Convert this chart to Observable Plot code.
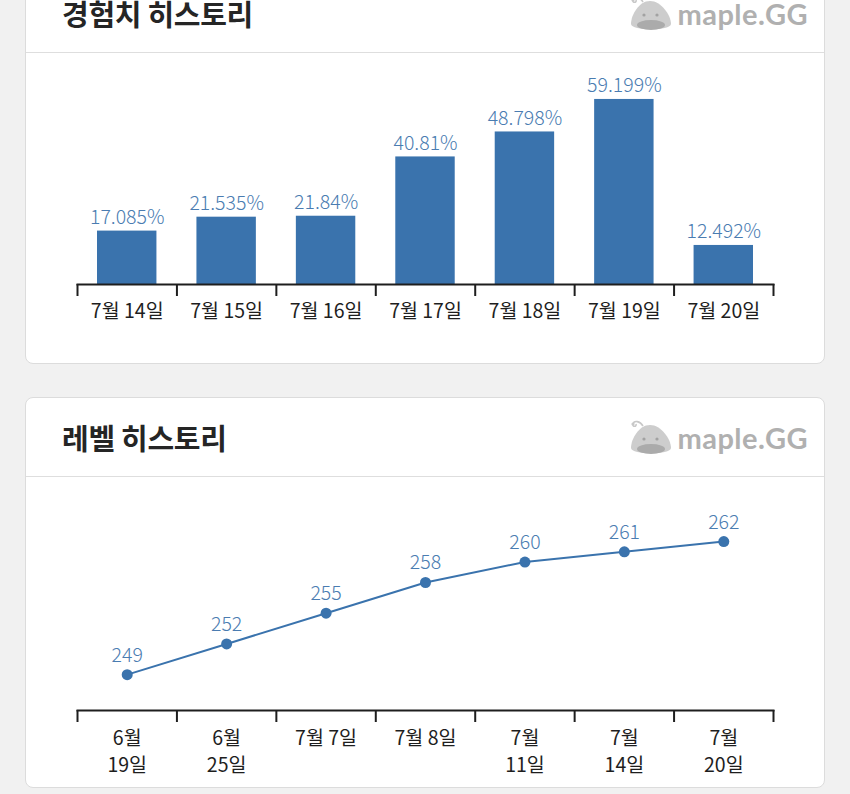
<!DOCTYPE html>
<html>
<head>
<meta charset="utf-8">
<script src="https://cdn.jsdelivr.net/npm/d3@7"></script>
<script src="https://cdn.jsdelivr.net/npm/@observablehq/plot@0.6"></script>
<style>
  html, body { margin: 0; padding: 0; }
  body { width: 850px; height: 794px; overflow: hidden; background: #f1f1f1; position: relative;
         font-family: "Noto Sans CJK KR", "Noto Sans", sans-serif; }
  .card { position: absolute; left: 25px; width: 798px; background: #fff; border: 1px solid #dcdcdc; border-radius: 8px; }
  .head { height: 78px; border-bottom: 1px solid #dedede; display: flex; align-items: center; justify-content: space-between; padding: 0 16px 0 36px; }
  .title { font-size: 29px; font-weight: 700; color: #252525; letter-spacing: -0.3px; }
  .logo { display: flex; align-items: center; gap: 3px; color: #b0b0b0; font-family: "Lato", sans-serif; font-weight: 700; font-size: 29px; letter-spacing: 0.5px; }
  .body { height: 310px; }
  svg { overflow: visible; }
</style>
</head>
<body>
<div class="card" id="card1" style="top:-27px;">
  <div class="head"><div class="title">경험치 히스토리</div><div class="logo" id="logo1"></div></div>
  <div class="body" id="chart1"></div>
</div>
<div class="card" id="card2" style="top:397px;">
  <div class="head"><div class="title">레벨 히스토리</div><div class="logo" id="logo2"></div></div>
  <div class="body" id="chart2"></div>
</div>
<script>
// ---- data ----
const expDates = ["7월 14일", "7월 15일", "7월 16일", "7월 17일", "7월 18일", "7월 19일", "7월 20일"];
const expValues = [17.085, 21.535, 21.84, 40.81, 48.798, 59.199, 12.492];

const levelDates = ["6월\n19일", "6월\n25일", "7월 7일", "7월 8일", "7월\n11일", "7월\n14일", "7월\n20일"];
const levelValues = [249, 252, 255, 258, 260, 261, 262];

const barColor = "#3a73ad";
const labelColor = "#4a7cb1";
const inkColor = "#1e1e1e";
const font = "'Noto Sans CJK KR', 'Noto Sans', sans-serif";

// ---- logo ----
const logoHTML = `<svg width="46" height="40" viewBox="0 0 46 40">
  <path d="M15 9 C 12 4, 6 3, 5 7 C 4 10, 9 10, 8 7" fill="none" stroke="#c8c8c8" stroke-width="1.6"/>
  <circle cx="5" cy="7" r="1.6" fill="#c8c8c8"/>
  <path d="M22 8 C 11 8, 3 22, 3 31 C 3 38, 43 38, 43 31 C 43 22, 33 8, 22 8 Z" fill="#cdcdcd"/>
  <ellipse cx="23" cy="32" rx="14" ry="5" fill="#ababab"/>
  <circle cx="16" cy="22" r="1.6" fill="#a2a2a2"/><circle cx="29" cy="22" r="1.6" fill="#a2a2a2"/>
</svg><span>maple.GG</span>`;
document.getElementById("logo1").innerHTML = logoHTML;
document.getElementById("logo2").innerHTML = logoHTML;

// ---- chart 1: experience bars ----
const expData = expDates.map((d, i) => ({i, date: d, value: expValues[i]}));
const chart1 = Plot.plot({
  width: 798, height: 310,
  marginLeft: 51, marginRight: 51, marginTop: 20, marginBottom: 79,
  x: {domain: [0, expDates.length], axis: null},
  y: {domain: [0, 67.5], axis: null},
  style: {fontFamily: font, fontSize: "19.5px", background: "transparent", overflow: "visible"},
  marks: [
    Plot.rectY(expData, {x1: d => d.i, x2: d => d.i + 1, y: "value", insetLeft: 20, insetRight: 20, fill: barColor}),
    Plot.text(expData, {x: d => d.i + 0.5, y: "value", text: d => d.value + "%", lineAnchor: "bottom", dy: -7, fill: labelColor, fontSize: 19.5, fontWeight: 300}),
    Plot.frame({anchor: "bottom", stroke: inkColor, strokeWidth: 2}),
    Plot.axisX({ticks: d3.range(expDates.length + 1), tickSize: 12, tickFormat: () => "", stroke: inkColor, strokeWidth: 2}),
    Plot.axisX({ticks: expData.map(d => d.i + 0.5), tickSize: 0, tickPadding: 20, tickFormat: v => expDates[Math.round(v - 0.5)], fill: inkColor, fontSize: 19.5})
  ]
});
document.getElementById("chart1").append(chart1);

// ---- chart 2: level line ----
const levelData = levelDates.map((d, i) => ({i, date: d, value: levelValues[i]}));
const chart2 = Plot.plot({
  width: 798, height: 310,
  marginLeft: 51, marginRight: 51, marginTop: 20, marginBottom: 77,
  x: {domain: [0, levelDates.length], axis: null},
  y: {domain: [245.5, 266.3], axis: null},
  style: {fontFamily: font, fontSize: "19.5px", background: "transparent", overflow: "visible"},
  marks: [
    Plot.line(levelData, {x: d => d.i + 0.5, y: "value", stroke: barColor, strokeWidth: 2}),
    Plot.dot(levelData, {x: d => d.i + 0.5, y: "value", r: 5.5, fill: barColor}),
    Plot.text(levelData, {x: d => d.i + 0.5, y: "value", text: d => String(d.value), lineAnchor: "bottom", dy: -13, fill: labelColor, fontSize: 19.5, fontWeight: 300}),
    Plot.frame({anchor: "bottom", stroke: inkColor, strokeWidth: 2}),
    Plot.axisX({ticks: d3.range(levelDates.length + 1), tickSize: 12, tickFormat: () => "", stroke: inkColor, strokeWidth: 2}),
    Plot.axisX({ticks: levelData.map(d => d.i + 0.5), tickSize: 0, tickPadding: 15, lineHeight: 1.38, tickFormat: v => levelDates[Math.round(v - 0.5)], fill: inkColor, fontSize: 19.5})
  ]
});
document.getElementById("chart2").append(chart2);
</script>
</body>
</html>
